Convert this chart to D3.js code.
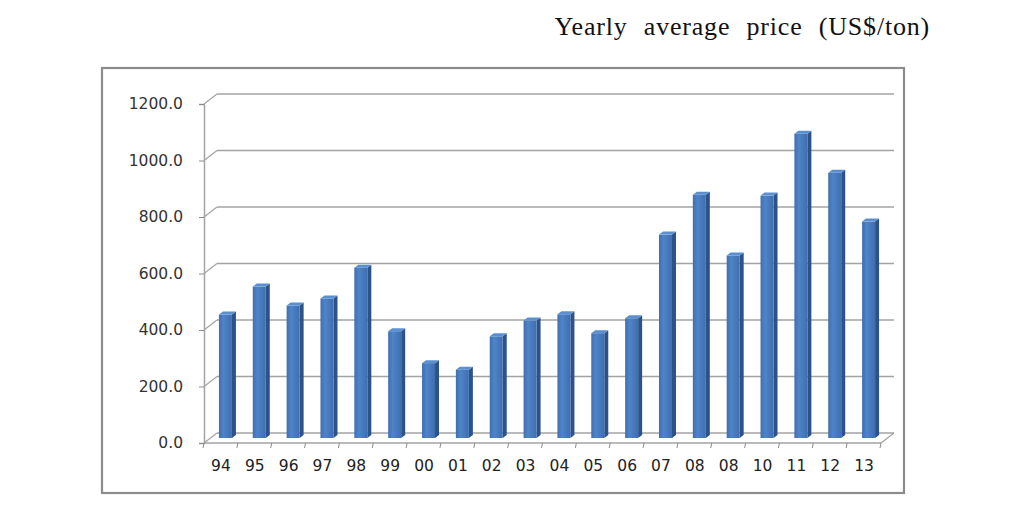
<!DOCTYPE html>
<html><head><meta charset="utf-8">
<script src="https://cdn.jsdelivr.net/npm/d3@7/dist/d3.min.js"></script>
<style>html,body{margin:0;padding:0;background:#fff;}svg{display:block;}</style>
</head><body>
<svg id="c" width="1024" height="513"></svg>
<script>
const categories = ["94","95","96","97","98","99","00","01","02","03","04","05","06","07","08","08","10","11","12","13"];
const prices = [437,536,469,494,603,378,265,242,360,416,438,371,424,720,861,646,858,1077,939,766];
const yTicks = [0,200,400,600,800,1000,1200];
const title = "Yearly average price (US$/ton)";

const svg = d3.select("#c");
const DX = 13, DY = -10; // depth offset of back wall
const x = d3.scaleBand().domain(d3.range(categories.length)).range([204, 881]).paddingInner(0).paddingOuter(0);
const y = d3.scaleLinear().domain([0,1200]).range([443, 104]);

// title
svg.append("text").attr("x", 930).attr("y", 35).attr("text-anchor","end")
  .attr("font-family","'Liberation Serif','DejaVu Serif',serif").attr("font-size",26)
  .attr("word-spacing","9px").attr("letter-spacing","0.8px").attr("fill","#111").text(title);

// outer frame
svg.append("rect").attr("x",102).attr("y",68).attr("width",802).attr("height",425)
  .attr("fill","none").attr("stroke","#8c8c8c").attr("stroke-width",2.2);

const g = svg.append("g");
const x0 = x.range()[0], x1 = x.range()[1];

// back wall gridlines + left wall diagonals
yTicks.forEach(t => {
  const yy = y(t);
  g.append("line").attr("x1", x0+DX).attr("x2", x1+DX).attr("y1", yy+DY).attr("y2", yy+DY)
    .attr("stroke","#a3a3a3").attr("stroke-width",1.6);
  g.append("line").attr("x1", x0).attr("y1", yy).attr("x2", x0+DX).attr("y2", yy+DY)
    .attr("stroke","#a3a3a3").attr("stroke-width",1.2);
});
g.append("line").attr("x1", x1).attr("y1", y(0)).attr("x2", x1+DX).attr("y2", y(0)+DY)
  .attr("stroke","#a3a3a3").attr("stroke-width",1.2);

// y axis (front)
const yAxis = d3.axisLeft(y).tickValues(yTicks).tickSize(5).tickPadding(16).tickFormat(d3.format(".1f"));
const ya = g.append("g").attr("transform",`translate(${x0},0)`).call(yAxis);
ya.select(".domain").attr("stroke","#a3a3a3").attr("stroke-width",1.5);
ya.selectAll(".tick line").attr("stroke","#8c8c8c");
ya.selectAll("text").attr("font-family","'DejaVu Sans',Verdana,sans-serif").attr("font-size",15.5).attr("fill","#333");

// x axis (front)
const xAxis = d3.axisBottom(x).tickFormat(i => categories[i]).tickSize(0).tickPadding(17);
const xa = g.append("g").attr("transform",`translate(0,${y(0)})`).call(xAxis);
xa.select(".domain").remove();
xa.selectAll("text").attr("font-family","'DejaVu Sans',Verdana,sans-serif").attr("font-size",15.5).attr("fill","#222");
g.append("line").attr("x1", x0).attr("x2", x1).attr("y1", y(0)).attr("y2", y(0)).attr("stroke","#a3a3a3").attr("stroke-width",1.5);
d3.range(categories.length+1).forEach(i => {
  const xx = x0 + i*x.step();
  g.append("line").attr("x1",xx).attr("x2",xx-1).attr("y1",y(0)).attr("y2",y(0)+5).attr("stroke","#8c8c8c");
});

const defs = svg.append("defs");
const grad = defs.append("linearGradient").attr("id","bf").attr("x1","0").attr("x2","1").attr("y1","0").attr("y2","0");
grad.append("stop").attr("offset","0").attr("stop-color","#3f6fb0");
grad.append("stop").attr("offset","0.35").attr("stop-color","#4f84c8");
grad.append("stop").attr("offset","1").attr("stop-color","#3e6eb0");

// bars at mid depth
const mdx = DX/2, mdy = DY/2;
const fw = 13, sw = 4, sh = 3;
const bars = g.append("g").selectAll("g").data(prices).join("g");
bars.each(function(v, i){
  const sel = d3.select(this);
  const cx = x(i) + x.bandwidth()/2 + mdx - 1;
  const left = cx - fw/2 - 1;
  const top = y(v) + mdy;
  const bot = y(0) + mdy;
  sel.append("path").attr("d", `M${left+fw},${top} L${left+fw+sw},${top-sh} L${left+fw+sw},${bot-sh} L${left+fw},${bot} Z`).attr("fill","#2c5288");
  sel.append("rect").attr("x",left).attr("y",top).attr("width",fw).attr("height",bot-top).attr("fill","url(#bf)");
  sel.append("path").attr("d", `M${left},${top} L${left+sw},${top-sh} L${left+fw+sw},${top-sh} L${left+fw},${top} Z`).attr("fill","#5a8fd0");
});
</script>
</body></html>
